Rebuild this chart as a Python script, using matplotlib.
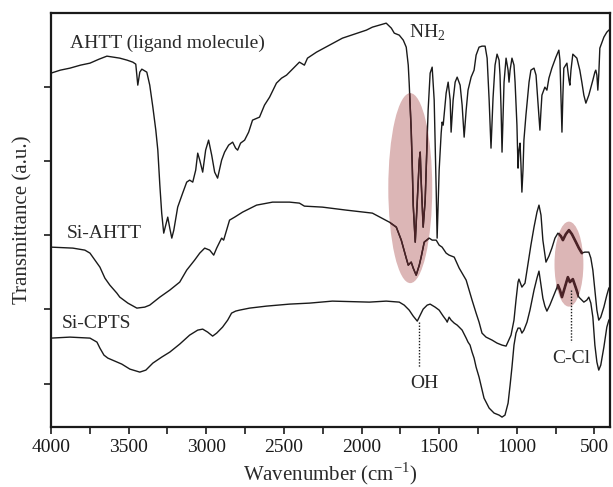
import numpy as np
import matplotlib
matplotlib.use("Agg")
import matplotlib.pyplot as plt
from matplotlib.patches import Ellipse
from matplotlib.ticker import MultipleLocator

plt.rcParams['font.family'] = ['Liberation Serif', 'DejaVu Serif']
plt.rcParams['mathtext.fontset'] = 'custom'
plt.rcParams['mathtext.rm'] = 'Liberation Serif'

# ---- data: AHTT (ligand molecule) ----
ahtt_wn = [4000, 3940, 3878, 3810, 3749, 3690, 3640, 3600, 3557, 3510, 3473, 3454, 3441, 3428, 3415, 3383,
           3364, 3344, 3325, 3312, 3299, 3287, 3274, 3261, 3248, 3235, 3222, 3209, 3184, 3152, 3126, 3107,
           3087, 3068, 3055, 3042, 3023, 3004, 2985, 2965, 2946, 2927, 2901, 2882, 2856, 2830, 2811, 2798,
           2779, 2753, 2727, 2702, 2657, 2625, 2592, 2548, 2515, 2483, 2464, 2400, 2368, 2348, 2290, 2207,
           2123, 2046, 1969, 1930, 1885, 1841, 1808, 1789, 1757, 1731, 1712, 1699, 1693, 1680, 1673, 1667,
           1654, 1641, 1628, 1622, 1616, 1603, 1590, 1583, 1571, 1558, 1545, 1532, 1526, 1519, 1513, 1500,
           1487, 1481, 1474, 1455, 1442, 1429, 1423, 1410, 1397, 1384, 1365, 1352, 1339, 1326, 1314, 1294,
           1275, 1262, 1243, 1224, 1204, 1191, 1178, 1172, 1166, 1153, 1140, 1127, 1114, 1108, 1101, 1095,
           1082, 1069, 1056, 1050, 1043, 1031, 1018, 1011, 999, 992, 986, 979, 973, 967, 960, 954,
           941, 921, 909, 889, 876, 870, 857, 851, 844, 838, 819, 806, 793, 774, 748, 729,
           722, 716, 709, 703, 697, 677, 664, 658, 651, 639, 613, 594, 581, 568, 555, 536,
           510, 497, 491, 484, 478, 472, 465, 439, 420, 407]
ahtt_t = [3.54, 3.57, 3.59, 3.62, 3.64, 3.68, 3.71, 3.70, 3.69, 3.67, 3.65, 3.63, 3.42, 3.55, 3.58, 3.55,
          3.42, 3.20, 2.97, 2.77, 2.42, 2.14, 1.94, 2.02, 2.10, 1.99, 1.89, 1.97, 2.20, 2.34, 2.45, 2.47,
          2.45, 2.57, 2.74, 2.67, 2.55, 2.77, 2.87, 2.72, 2.55, 2.49, 2.67, 2.75, 2.82, 2.85, 2.79, 2.77,
          2.84, 2.87, 2.95, 3.07, 3.10, 3.22, 3.30, 3.44, 3.49, 3.52, 3.55, 3.65, 3.62, 3.69, 3.75, 3.82,
          3.89, 3.93, 3.97, 4.00, 4.02, 4.04, 3.99, 3.94, 3.92, 3.87, 3.80, 3.62, 3.44, 2.97, 2.60, 2.22,
          1.85, 2.27, 2.67, 2.75, 2.47, 2.00, 2.27, 2.60, 3.17, 3.54, 3.60, 3.27, 2.87, 2.37, 1.89, 2.57,
          2.94, 3.05, 3.02, 3.34, 3.45, 3.27, 2.95, 3.27, 3.45, 3.50, 3.42, 3.22, 2.90, 3.17, 3.37, 3.50,
          3.57, 3.72, 3.80, 3.81, 3.81, 3.69, 3.27, 3.02, 2.79, 3.29, 3.62, 3.73, 3.67, 3.52, 3.17, 2.75,
          3.45, 3.69, 3.57, 3.45, 3.57, 3.69, 3.62, 3.45, 3.02, 2.59, 2.77, 2.84, 2.62, 2.35, 2.57, 2.87,
          3.12, 3.45, 3.57, 3.59, 3.52, 3.39, 3.12, 2.97, 3.17, 3.32, 3.40, 3.37, 3.49, 3.59, 3.70, 3.77,
          3.67, 3.32, 2.95, 3.32, 3.59, 3.64, 3.47, 3.42, 3.57, 3.73, 3.69, 3.57, 3.45, 3.32, 3.24, 3.32,
          3.47, 3.55, 3.57, 3.52, 3.37, 3.52, 3.79, 3.90, 3.95, 3.97]

# ---- data: Si-AHTT ----
siahtt_wn = [4000, 3859, 3782, 3749, 3717, 3685, 3653, 3621, 3576, 3557, 3505, 3447, 3396, 3364, 3299, 3235,
             3171, 3126, 3075, 3042, 3010, 2978, 2952, 2933, 2914, 2901, 2888, 2869, 2850, 2817, 2766, 2676,
             2573, 2464, 2400, 2368, 2252, 2098, 1930, 1821, 1776, 1744, 1712, 1699, 1680, 1667, 1648, 1628,
             1616, 1596, 1564, 1545, 1519, 1500, 1481, 1455, 1436, 1403, 1371, 1326, 1288, 1262, 1243, 1224,
             1198, 1159, 1127, 1095, 1069, 1037, 1018, 1005, 992, 986, 979, 967, 947, 934, 909, 889,
             870, 857, 844, 832, 812, 793, 774, 754, 735, 716, 703, 684, 664, 645, 619, 600,
             581, 562, 536, 523, 510, 497, 484, 472, 459, 439, 420, 407]
siahtt_t = [1.80, 1.79, 1.77, 1.74, 1.67, 1.60, 1.49, 1.42, 1.34, 1.30, 1.24, 1.19, 1.20, 1.22, 1.30, 1.37,
            1.45, 1.57, 1.67, 1.74, 1.79, 1.77, 1.72, 1.79, 1.85, 1.89, 1.87, 1.97, 2.07, 2.10, 2.15, 2.22,
            2.25, 2.25, 2.24, 2.21, 2.20, 2.17, 2.14, 2.05, 2.00, 1.87, 1.69, 1.62, 1.65, 1.59, 1.52, 1.62,
            1.70, 1.85, 1.89, 1.87, 1.87, 1.82, 1.80, 1.74, 1.72, 1.70, 1.59, 1.47, 1.27, 1.14, 1.05, 0.94,
            0.90, 0.87, 0.84, 0.82, 0.81, 0.92, 1.07, 1.27, 1.45, 1.48, 1.45, 1.40, 1.44, 1.57, 1.82, 2.00,
            2.15, 2.22, 2.12, 1.87, 1.65, 1.71, 1.79, 1.89, 1.94, 1.91, 1.87, 1.93, 1.97, 1.93, 1.85, 1.79,
            1.74, 1.75, 1.75, 1.69, 1.57, 1.37, 1.17, 1.07, 1.10, 1.20, 1.32, 1.39]

# ---- data: Si-CPTS ----
sicpts_wn = [4000, 3878, 3749, 3704, 3685, 3659, 3634, 3589, 3544, 3492, 3428, 3389, 3344, 3287, 3235, 3171,
             3107, 3055, 3023, 2991, 2959, 2933, 2895, 2862, 2837, 2811, 2785, 2721, 2612, 2464, 2335, 2188,
             1950, 1841, 1757, 1725, 1693, 1667, 1641, 1622, 1603, 1577, 1558, 1526, 1500, 1474, 1455, 1448,
             1436, 1423, 1403, 1384, 1371, 1352, 1339, 1326, 1314, 1301, 1288, 1275, 1262, 1243, 1211, 1178,
             1146, 1114, 1095, 1076, 1056, 1043, 1031, 1018, 1005, 992, 979, 967, 954, 934, 915, 889,
             870, 857, 844, 832, 819, 806, 787, 761, 735, 722, 709, 690, 671, 658, 639, 619,
             600, 568, 549, 536, 523, 510, 497, 484, 472, 459, 439, 420, 407]
sicpts_t = [0.89, 0.90, 0.89, 0.85, 0.79, 0.72, 0.69, 0.66, 0.63, 0.58, 0.55, 0.57, 0.64, 0.70, 0.75, 0.83,
            0.92, 0.97, 0.98, 0.95, 0.91, 0.94, 1.00, 1.07, 1.14, 1.16, 1.17, 1.19, 1.21, 1.23, 1.24, 1.26,
            1.25, 1.26, 1.25, 1.22, 1.17, 1.11, 1.06, 1.12, 1.18, 1.22, 1.23, 1.20, 1.17, 1.11, 1.07, 1.05,
            1.10, 1.07, 1.04, 1.02, 1.00, 0.97, 0.93, 0.89, 0.85, 0.82, 0.75, 0.69, 0.60, 0.50, 0.29, 0.19,
            0.14, 0.12, 0.10, 0.12, 0.24, 0.42, 0.60, 0.82, 0.94, 0.99, 0.99, 0.94, 0.97, 1.05, 1.17, 1.37,
            1.49, 1.56, 1.42, 1.29, 1.21, 1.16, 1.22, 1.32, 1.42, 1.37, 1.30, 1.40, 1.50, 1.45, 1.48, 1.39,
            1.30, 1.25, 1.27, 1.30, 1.24, 1.10, 0.82, 0.65, 0.57, 0.62, 0.80, 1.00, 1.07]

x_ticks = [4000, 3500, 3000, 2500, 2000, 1500, 1000, 500]
y_ticks = [0.43, 1.18, 1.92, 2.66, 3.40]

fig = plt.figure(figsize=(6.13, 4.87), dpi=100)
ax = fig.add_axes([0.0832, 0.123, 0.9118, 0.850])

line_kw = dict(color='#1a1a1a', lw=1.0, zorder=3, solid_joinstyle='round')
ax.plot(ahtt_wn, ahtt_t, **line_kw)
ax.plot(siahtt_wn, siahtt_t, **line_kw)
ax.plot(sicpts_wn, sicpts_t, **line_kw)

# highlight ellipses
e1 = Ellipse((1686, 2.39), 283, 1.90, facecolor='#dcb6b6', edgecolor='none', zorder=1)
e2 = Ellipse((664, 1.63), 186, 0.85, facecolor='#dcb6b6', edgecolor='none', zorder=1)
ax.add_patch(e1)
ax.add_patch(e2)
# darker overplot inside the ellipses
for ell, lw in ((e1, 1.1), (e2, 1.9)):
    clip = Ellipse(ell.center, ell.width, ell.height, facecolor='none', edgecolor='none')
    ax.add_patch(clip)
    for wn, t in ((ahtt_wn, ahtt_t), (siahtt_wn, siahtt_t), (sicpts_wn, sicpts_t)):
        l, = ax.plot(wn, t, color='#4a2226', lw=lw, zorder=4, solid_joinstyle='round')
        l.set_clip_path(clip)

# dotted marker lines
ax.plot([1628, 1628], [1.05, 0.60], ls=(0, (1, 1.2)), color='#1a1a1a', lw=1.0, zorder=3)
ax.plot([651, 651], [1.37, 0.85], ls=(0, (1, 1.2)), color='#1a1a1a', lw=1.0, zorder=3)

tkw = dict(fontsize=14, color='#2a2a2a')
ax.text(3878, 3.84, 'AHTT (ligand molecule)', ha='left', va='center', **tkw)
ax.text(1577, 3.94, 'NH$_2$', ha='center', va='center', **tkw)
ax.text(3897, 1.94, 'Si-AHTT', ha='left', va='center', **tkw)
ax.text(3929, 1.04, 'Si-CPTS', ha='left', va='center', **tkw)
ax.text(1596, 0.44, 'OH', ha='center', va='center', **tkw)
ax.text(651, 0.69, 'C-Cl', ha='center', va='center', **tkw)

ax.set_xlim(4000, 400)
ax.set_ylim(0, 4.14)
ax.set_xticks(x_ticks)
ax.set_xticklabels([str(v) for v in x_ticks])
ax.xaxis.set_minor_locator(MultipleLocator(250))
ax.set_yticks(y_ticks)
ax.set_yticklabels([])
ax.tick_params(axis='both', which='both', direction='out', length=5, width=1.2,
               labelsize=14, colors='#1a1a1a', top=False, right=False)
for s in ax.spines.values():
    s.set_linewidth(1.6)
    s.set_color('#1a1a1a')

ax.set_xlabel('Wavenumber (cm$^{-1}$)', fontsize=15, color='#2a2a2a', labelpad=3)
ax.set_ylabel('Transmittance (a.u.)', fontsize=15, color='#2a2a2a', labelpad=5)

fig.savefig('out.png', dpi=100)
